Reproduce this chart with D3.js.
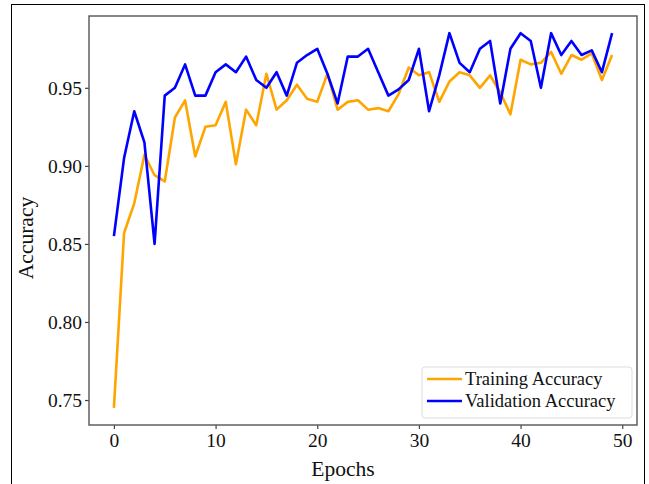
<!DOCTYPE html>
<html>
<head>
<meta charset="utf-8">
<script src="https://cdn.jsdelivr.net/npm/d3@7"></script>
<style>
  body { margin: 0; background: #fff; }
  svg text { font-family: "Liberation Serif", "DejaVu Serif", serif; fill: #111; }
</style>
</head>
<body>
<div class="chart"></div>
<script>
// accuracy per epoch
const epochs = d3.range(50);
const trainAcc = [
  0.745, 0.857, 0.876, 0.907, 0.894, 0.890, 0.931, 0.942, 0.906, 0.925,
  0.926, 0.941, 0.901, 0.936, 0.926, 0.959, 0.936, 0.942, 0.952, 0.943,
  0.941, 0.959, 0.936, 0.941, 0.942, 0.936, 0.937, 0.935, 0.946, 0.963,
  0.958, 0.960, 0.941, 0.954, 0.960, 0.958, 0.950, 0.958, 0.947, 0.933,
  0.968, 0.965, 0.966, 0.973, 0.959, 0.971, 0.968, 0.972, 0.955, 0.971
];
const valAcc = [
  0.855, 0.905, 0.935, 0.915, 0.850, 0.945, 0.950, 0.965, 0.945, 0.945,
  0.960, 0.965, 0.960, 0.970, 0.955, 0.950, 0.960, 0.945, 0.966, 0.971,
  0.975, 0.959, 0.940, 0.970, 0.970, 0.975, 0.960, 0.945, 0.949, 0.955,
  0.975, 0.935, 0.958, 0.985, 0.966, 0.960, 0.975, 0.980, 0.940, 0.975,
  0.985, 0.980, 0.950, 0.985, 0.971, 0.980, 0.971, 0.974, 0.960, 0.985
];
const xTicks = [0, 10, 20, 30, 40, 50];
const yTicks = [0.75, 0.80, 0.85, 0.90, 0.95];
const seriesNames = ["Training Accuracy", "Validation Accuracy"];
const seriesColors = ["#FFA500", "#0000FF"];

function renderChart() {
  d3.select(".chart").selectAll("*").remove();

  const W = 649, H = 484;
  const plot = { left: 89, right: 637, top: 16, bottom: 425 };

  const svg = d3.select(".chart")
    .append("svg")
    .attr("width", W)
    .attr("height", H);

  // outer frame around the whole figure
  svg.append("rect")
    .attr("x", 11.5).attr("y", 4.5)
    .attr("width", 633).attr("height", 490)
    .attr("fill", "none")
    .attr("stroke", "#000")
    .attr("stroke-width", 1);

  const xScale = d3.scaleLinear()
    .domain([-2.45, 51.45])
    .range([plot.left, plot.right]);

  const yScale = d3.scaleLinear()
    .domain([0.734, 0.996])
    .range([plot.bottom, plot.top]);

  const xAxis = svg.append("g")
    .attr("transform", `translate(0,${plot.bottom})`)
    .call(d3.axisBottom(xScale).tickValues(xTicks).tickSize(4).tickPadding(4).tickFormat(d3.format("d")));

  const yAxis = svg.append("g")
    .attr("transform", `translate(${plot.left},0)`)
    .call(d3.axisLeft(yScale).tickValues(yTicks).tickSize(4).tickPadding(3).tickFormat(d3.format(".2f")));

  [xAxis, yAxis].forEach((g) => {
    g.select(".domain").remove();
    g.selectAll(".tick line").attr("stroke", "#444").attr("stroke-width", 1.2);
    g.selectAll(".tick text")
      .attr("fill", "#111")
      .style("font-size", "19.5px")
      .style("font-family", "Liberation Serif, serif");
  });

  const line = (values) => d3.line()
    .x((d, i) => xScale(epochs[i]))
    .y((d) => yScale(d))(values);

  [trainAcc, valAcc].forEach((values, k) => {
    svg.append("path")
      .attr("d", line(values))
      .attr("fill", "none")
      .attr("stroke", seriesColors[k])
      .attr("stroke-width", 2.6)
      .attr("stroke-linejoin", "round");
  });

  // plot frame
  svg.append("rect")
    .attr("x", plot.left).attr("y", plot.top)
    .attr("width", plot.right - plot.left)
    .attr("height", plot.bottom - plot.top)
    .attr("fill", "none")
    .attr("stroke", "#555")
    .attr("stroke-width", 1.4);

  // axis titles
  svg.append("text")
    .attr("x", 343)
    .attr("y", 476)
    .attr("text-anchor", "middle")
    .style("font-size", "21.5px")
    .text("Epochs");

  svg.append("text")
    .attr("transform", "translate(33,238) rotate(-90)")
    .attr("text-anchor", "middle")
    .style("font-size", "21.5px")
    .text("Accuracy");

  // legend
  const legend = svg.append("g").attr("transform", "translate(422,367)");
  legend.append("rect")
    .attr("width", 210).attr("height", 51)
    .attr("rx", 3)
    .attr("fill", "#fff")
    .attr("fill-opacity", 0.85)
    .attr("stroke", "#ddd")
    .attr("stroke-width", 1);

  legend.selectAll("line")
    .data(seriesNames)
    .join("line")
    .attr("x1", 5).attr("x2", 40)
    .attr("y1", (d, i) => 12 + i * 22)
    .attr("y2", (d, i) => 12 + i * 22)
    .attr("stroke", (d, i) => seriesColors[i])
    .attr("stroke-width", 2.6);

  legend.selectAll("text")
    .data(seriesNames)
    .join("text")
    .attr("x", 43)
    .attr("y", (d, i) => 12 + i * 22)
    .attr("dy", "0.35em")
    .style("font-size", "18.5px")
    .text((d) => d);
}

renderChart();
</script>
</body>
</html>
